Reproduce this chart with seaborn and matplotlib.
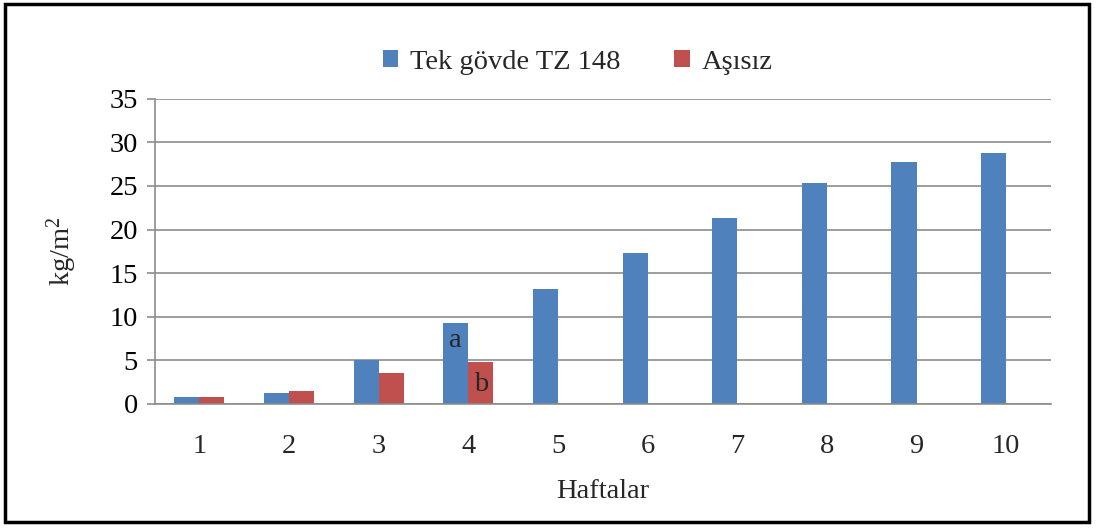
import matplotlib
matplotlib.use("Agg")
import matplotlib.pyplot as plt
import seaborn as sns
import pandas as pd
from matplotlib.patches import Rectangle

weeks = ["1", "2", "3", "4", "5", "6", "7", "8", "9", "10"]
tek_govde = [0.8, 1.2, 5.0, 9.3, 13.2, 17.3, 21.3, 25.3, 27.7, 28.8]
asisiz = [0.8, 1.5, 3.6, 4.8, 0, 0, 0, 0, 0, 0]
series_names = ["Tek gövde TZ 148", "Aşısız"]
colors = ["#4F81BD", "#C0504D"]

df = pd.DataFrame({
    "Haftalar": weeks * 2,
    "value": tek_govde + asisiz,
    "series": [series_names[0]] * len(weeks) + [series_names[1]] * len(weeks),
})

sns.set_theme(style="white")
plt.rcParams["font.family"] = ["Liberation Serif", "DejaVu Serif"]
plt.rcParams["mathtext.fontset"] = "custom"
plt.rcParams["mathtext.rm"] = "Liberation Serif"
plt.rcParams["mathtext.it"] = "Liberation Serif"
plt.rcParams["mathtext.default"] = "rm"

fs = 20.5

fig = plt.figure(figsize=(11.04, 5.28), dpi=100)
ax = fig.add_axes([0.140, 0.235, 0.812, 0.578])

sns.barplot(data=df, x="Haftalar", y="value", hue="series", order=weeks,
            hue_order=series_names, palette=colors, width=0.56, saturation=1,
            edgecolor="none", ax=ax)

ax.set_ylim(0, 35)
ax.set_xlim(-0.5, 9.5)
ax.set_yticks(range(0, 36, 5))
ax.yaxis.grid(True, color="#8c8c8c", linewidth=1.2)
ax.set_axisbelow(True)
for side in ["top", "right"]:
    ax.spines[side].set_visible(False)
for side in ["left", "bottom"]:
    ax.spines[side].set_color("#8c8c8c")
    ax.spines[side].set_linewidth(1.2)
ax.tick_params(axis="y", left=True, length=6, width=1.2, colors="#8c8c8c",
               labelcolor="black", labelsize=fs, pad=6)
ax.tick_params(axis="x", bottom=False, labelsize=fs, pad=16)
ax.set_xlabel("Haftalar", fontsize=fs, labelpad=14)
ax.set_ylabel("kg/m$^2$", fontsize=fs, labelpad=22)

# significance letters for week 4
ax.text(3 - 0.14, 7.3, "a", ha="center", va="center", fontsize=fs)
ax.text(3 + 0.14, 2.2, "b", ha="center", va="center", fontsize=fs)

ax.legend(loc="upper center", bbox_to_anchor=(0.472, 1.245), ncol=2,
          frameon=False, fontsize=fs, handlelength=0.55,
          handleheight=0.55, handletextpad=0.4, columnspacing=1.9)

fig.patches.append(Rectangle((5 / 1104, 6 / 528), 1084 / 1104, 518 / 528,
                             transform=fig.transFigure, fill=False,
                             edgecolor="black", linewidth=2.5))

fig.savefig("out.png", dpi=100)
